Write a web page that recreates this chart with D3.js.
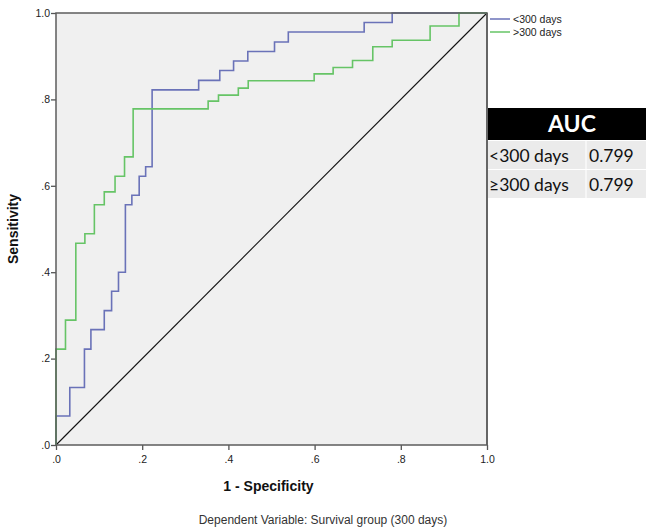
<!DOCTYPE html>
<html>
<head>
<meta charset="utf-8">
<script src="https://cdn.jsdelivr.net/npm/d3@7"></script>
<style>
  body { margin: 0; background: #ffffff; }
  svg { display: block; }
</style>
</head>
<body>
<div id="chart"></div>
<script>
// ROC points: [1 - specificity, sensitivity], step goes right then up
const seriesNames = ['<300 days', '>300 days']
const blueFpr = [0, 0, 0.032, 0.066, 0.081, 0.112, 0.129, 0.145, 0.161, 0.176, 0.193, 0.208, 0.223, 0.331, 0.380, 0.412, 0.445, 0.507, 0.539, 0.715, 0.780, 1.0]
const blueTpr = [0, 0.067, 0.133, 0.222, 0.267, 0.311, 0.356, 0.400, 0.556, 0.578, 0.622, 0.644, 0.822, 0.844, 0.867, 0.889, 0.911, 0.933, 0.956, 0.978, 1.0, 1.0]
const greenFpr = [0, 0, 0.022, 0.046, 0.067, 0.089, 0.112, 0.137, 0.159, 0.179, 0.353, 0.377, 0.423, 0.446, 0.599, 0.643, 0.688, 0.735, 0.780, 0.868, 0.935, 1.0]
const greenTpr = [0, 0.222, 0.289, 0.467, 0.489, 0.556, 0.586, 0.622, 0.667, 0.778, 0.796, 0.810, 0.826, 0.843, 0.859, 0.874, 0.890, 0.922, 0.937, 0.970, 1.0, 1.0]
const tickValues = [0, 0.2, 0.4, 0.6, 0.8, 1.0]
const aucRows = ['<300 days', '≥300 days']
const aucValues = ['0.799', '0.799']

let margin = {top: 13, left: 56, right: 159, bottom: 85},
    W = 646, H = 530,
    width = W - margin.left - margin.right,
    height = H - margin.top - margin.bottom

let svg = d3.select('#chart').append('svg')
    .attr('width', W)
    .attr('height', H)
    .style('background-color', '#FFFFFF')

let g = svg.append('g').attr('transform', 'translate(' + margin.left + ',' + margin.top + ')')

let x = d3.scaleLinear().domain([0, 1]).range([0, width])
let y = d3.scaleLinear().domain([0, 1]).range([height, 0])

// plot background
g.append('rect')
    .attr('width', width)
    .attr('height', height)
    .attr('fill', '#f0f0f0')

let fmt = function(d) { return d === 1 ? '1.0' : d3.format('.1f')(d).replace(/^0/, '') }

let xAxis = g.append('g')
    .attr('transform', 'translate(0,' + height + ')')
    .call(d3.axisBottom(x).tickValues(tickValues).tickFormat(fmt).tickSize(5).tickSizeOuter(0))
let yAxis = g.append('g')
    .call(d3.axisLeft(y).tickValues(tickValues).tickFormat(fmt).tickSize(5).tickSizeOuter(0))

xAxis.select('.domain').remove()
yAxis.select('.domain').remove()
g.selectAll('.tick line').attr('stroke', '#555').attr('stroke-width', 1.3)
g.selectAll('.tick text')
    .attr('font-family', 'Liberation Sans, Arial, sans-serif')
    .attr('font-size', 10.5)
    .attr('fill', '#222')
xAxis.selectAll('.tick text').attr('dy', '0.95em')
yAxis.selectAll('.tick text').attr('x', -6)

// reference diagonal
g.append('line')
    .attr('x1', x(0)).attr('y1', y(0))
    .attr('x2', x(1)).attr('y2', y(1))
    .attr('stroke', '#111')
    .attr('stroke-width', 1.1)

let line = d3.line()
    .curve(d3.curveStepAfter)
    .x(function(d) { return x(d[0]) })
    .y(function(d) { return y(d[1]) })

let color = d3.scaleOrdinal().domain(seriesNames).range(['#6a72b8', '#66c466'])

let curves = [
  {id: seriesNames[0], values: d3.zip(blueFpr, blueTpr)},
  {id: seriesNames[1], values: d3.zip(greenFpr, greenTpr)}
]

g.selectAll('.roc')
    .data(curves)
    .enter().append('path')
    .attr('class', 'roc')
    .attr('d', function(d) { return line(d.values) })
    .attr('fill', 'none')
    .attr('stroke', function(d) { return color(d.id) })
    .attr('stroke-width', 1.6)

// frame
g.append('rect')
    .attr('width', width)
    .attr('height', height)
    .attr('fill', 'none')
    .attr('stroke', '#5c5c5c')
    .attr('stroke-width', 1.5)

// axis titles
svg.append('text')
    .attr('x', margin.left + width / 2 - 3)
    .attr('y', 491)
    .attr('text-anchor', 'middle')
    .attr('font-family', 'Liberation Sans, Arial, sans-serif')
    .attr('font-weight', 'bold')
    .attr('font-size', 14)
    .attr('fill', '#111')
    .text('1 - Specificity')

svg.append('text')
    .attr('transform', 'translate(18,' + (margin.top + height / 2) + ') rotate(-90)')
    .attr('text-anchor', 'middle')
    .attr('font-family', 'Liberation Sans, Arial, sans-serif')
    .attr('font-weight', 'bold')
    .attr('font-size', 14)
    .attr('fill', '#111')
    .text('Sensitivity')

svg.append('text')
    .attr('x', 323)
    .attr('y', 524)
    .attr('text-anchor', 'middle')
    .attr('font-family', 'Liberation Sans, Arial, sans-serif')
    .attr('font-size', 12)
    .attr('fill', '#333')
    .text('Dependent Variable: Survival group (300 days)')

// legend
let legend = svg.selectAll('.legend')
    .data(seriesNames)
    .enter().append('g')
    .attr('class', 'legend')
    .attr('transform', function(d, i) { return 'translate(490,' + (19 + i * 13) + ')' })

legend.append('line')
    .attr('x1', 0).attr('x2', 20)
    .attr('stroke', color)
    .attr('stroke-width', 1.5)

legend.append('text')
    .attr('x', 23)
    .attr('dy', '0.35em')
    .attr('font-family', 'Liberation Sans, Arial, sans-serif')
    .attr('font-size', 10.5)
    .attr('fill', '#222')
    .text(function(d) { return d })

// AUC table
let tx = margin.left + width + 1
let table = svg.append('g')
table.append('rect')
    .attr('x', tx).attr('y', 108)
    .attr('width', W - tx).attr('height', 32)
    .attr('fill', '#000')
table.append('text')
    .attr('x', 572)
    .attr('y', 132)
    .attr('text-anchor', 'middle')
    .attr('font-family', 'Lato, sans-serif')
    .attr('font-weight', 'bold')
    .attr('font-size', 23)
    .attr('fill', '#fff')
    .text('AUC')

let rows = table.selectAll('.row')
    .data(d3.zip(aucRows, aucValues))
    .enter().append('g')
    .attr('class', 'row')
    .attr('transform', function(d, i) { return 'translate(' + tx + ',' + (141 + i * 29) + ')' })

rows.append('rect')
    .attr('width', W - tx).attr('height', 28)
    .attr('fill', '#ebebeb')
rows.append('line')
    .attr('x1', 586 - tx).attr('x2', 586 - tx)
    .attr('y1', 0).attr('y2', 28)
    .attr('stroke', '#fafafa')
    .attr('stroke-width', 1.5)
rows.append('text')
    .attr('x', 1)
    .attr('y', 21)
    .attr('font-family', 'Lato, sans-serif')
    .attr('font-size', 17.5)
    .attr('fill', '#111')
    .text(function(d) { return d[0] })
rows.append('text')
    .attr('x', 589 - tx)
    .attr('y', 21)
    .attr('font-family', 'Lato, sans-serif')
    .attr('font-size', 17.5)
    .attr('fill', '#111')
    .text(function(d) { return d[1] })

// plot right edge runs through the table rows
svg.append('line')
    .attr('x1', tx - 1).attr('x2', tx - 1)
    .attr('y1', margin.top).attr('y2', margin.top + height)
    .attr('stroke', '#5c5c5c')
    .attr('stroke-width', 1.5)
</script>
</body>
</html>
